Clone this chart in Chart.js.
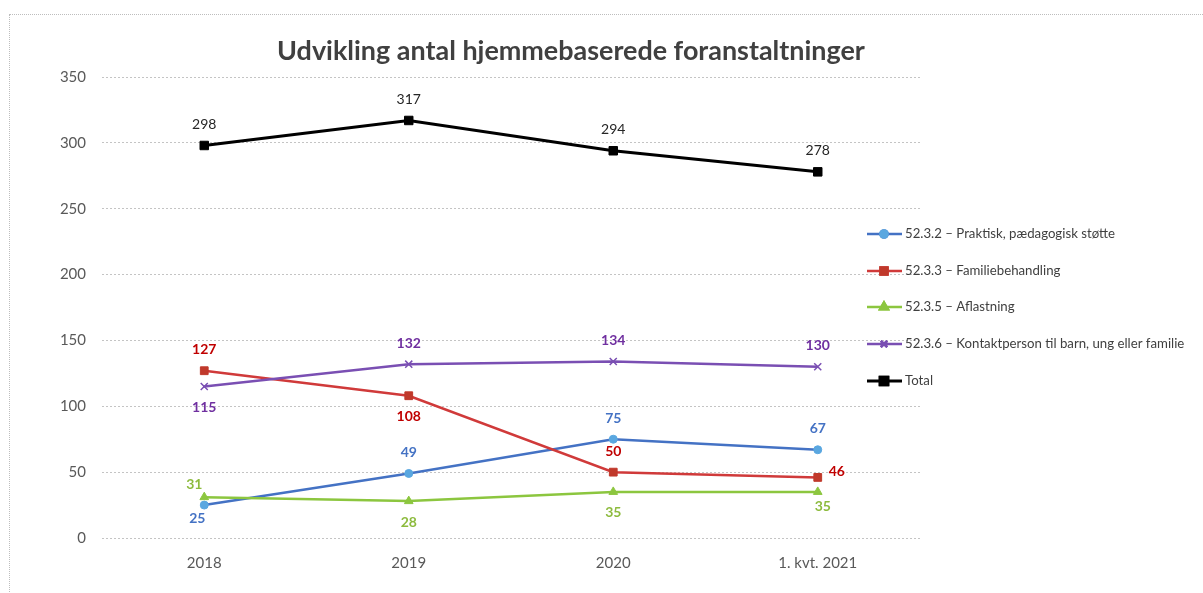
<!DOCTYPE html>
<html>
<head>
<meta charset="utf-8">
<script src="https://cdn.jsdelivr.net/npm/chart.js@4/dist/chart.umd.min.js"></script>
<style>
  html, body { margin: 0; padding: 0; background: #fff; overflow: hidden; }
  #wrap { position: relative; width: 1203px; height: 593px; }
  #frame { position: absolute; left: 9px; top: 14px; width: 1300px; height: 700px; border: 1px dotted #bdbdbd; }
  canvas { position: absolute; left: 0; top: 0; }
</style>
</head>
<body>
<div id="wrap">
  <div id="frame"></div>
  <canvas id="c" width="1203" height="593"></canvas>
</div>
<script>
const categories = ['2018', '2019', '2020', '1. kvt. 2021'];
const seriesNames = [
  '52.3.2 – Praktisk, pædagogisk støtte',
  '52.3.3 – Familiebehandling',
  '52.3.5 – Aflastning',
  '52.3.6 – Kontaktperson til barn, ung eller familie',
  'Total'
];
const praktisk = [25, 49, 75, 67];
const familiebehandling = [127, 108, 50, 46];
const aflastning = [31, 28, 35, 35];
const kontaktperson = [115, 132, 134, 130];
const total = [298, 317, 294, 278];
const yTicks = [0, 50, 100, 150, 200, 250, 300, 350];
const chartTitle = 'Udvikling antal hjemmebaserede foranstaltninger';

const FONT = 'Lato, "Open Sans", sans-serif';

const styles = [
  { line: '#4472c4', fill: '#5aa7e0', label: '#4472c4', point: 'circle', r: 4, lw: 2.5, bold: true,
    pos: ['belowLeft', 'above', 'above', 'above'] },
  { line: '#d03a3a', fill: '#c0392b', label: '#c00000', point: 'rect', r: 5.5, lw: 2.5, bold: true,
    pos: ['above', 'below', 'above', 'right'] },
  { line: '#8cc63f', fill: '#8cc63f', label: '#8dbb3e', point: 'triangle', r: 5, lw: 2.5, bold: true,
    pos: ['aboveLeft', 'below', 'below', 'belowRight'] },
  { line: '#7a4fb3', fill: '#7a4fb3', label: '#7030a0', point: 'crossRot', r: 5, lw: 2.5, bold: true,
    pos: ['below', 'above', 'above', 'above'] },
  { line: '#000000', fill: '#000000', label: '#262626', point: 'rect', r: 6, lw: 3, bold: false,
    pos: ['above', 'above', 'above', 'above'] }
];
const values = [praktisk, familiebehandling, aflastning, kontaktperson, total];

const datasets = values.map((v, i) => ({
  label: seriesNames[i],
  data: v,
  borderColor: styles[i].line,
  backgroundColor: styles[i].fill,
  pointBackgroundColor: styles[i].fill,
  pointBorderColor: styles[i].point === 'crossRot' ? styles[i].line : styles[i].fill,
  pointStyle: styles[i].point,
  pointRadius: styles[i].r,
  pointHoverRadius: styles[i].r,
  pointBorderWidth: styles[i].point === 'crossRot' ? 1.5 : 1,
  borderWidth: styles[i].lw,
  tension: 0,
  fill: false,
  order: i === 4 ? 0 : 5 - i
}));

const labelsPlugin = {
  id: 'valueLabels',
  afterDatasetsDraw(chart) {
    const ctx = chart.ctx;
    ctx.save();
    ctx.textAlign = 'center';
    ctx.textBaseline = 'middle';
    chart.data.datasets.forEach((ds, i) => {
      const meta = chart.getDatasetMeta(i);
      const st = styles[i];
      ctx.font = (st.bold ? 'bold ' : '') + '14px ' + FONT;
      ctx.fillStyle = st.label;
      meta.data.forEach((pt, j) => {
        let x = pt.x, y = pt.y;
        switch (st.pos[j]) {
          case 'above': y -= 21; break;
          case 'below': y += 21; break;
          case 'right': x += 19; y -= 6; break;
          case 'belowRight': x += 5; y += 15; break;
          case 'belowLeft': x -= 7; y += 13; break;
          case 'aboveLeft': x -= 10; y -= 13; break;
        }
        ctx.fillText(String(ds.data[j]), x, y);
      });
    });
    ctx.restore();
  }
};

const titleLegendPlugin = {
  id: 'titleLegend',
  afterDraw(chart) {
    const ctx = chart.ctx;
    ctx.save();
    // title
    ctx.fillStyle = '#404040';
    ctx.textAlign = 'center';
    ctx.textBaseline = 'middle';
    let fs = 24;
    ctx.font = 'bold ' + fs + 'px ' + FONT;
    const w = ctx.measureText(chartTitle).width;
    fs = fs * 588 / w;
    ctx.font = 'bold ' + fs.toFixed(2) + 'px ' + FONT;
    ctx.fillText(chartTitle, 571, 51);
    // legend
    const ys = [234, 271, 307, 344, 381];
    ctx.textAlign = 'left';
    ctx.font = '12px ' + FONT;
    const lw = ctx.measureText(seriesNames[0]).width;
    const lfs = 12 * 210 / lw;
    styles.forEach((st, i) => {
      const y = ys[i];
      ctx.strokeStyle = st.line;
      ctx.lineWidth = st.lw;
      ctx.beginPath();
      ctx.moveTo(867, y);
      ctx.lineTo(902, y);
      ctx.stroke();
      Chart.helpers.drawPoint(ctx, {
        pointStyle: st.point,
        radius: st.r * 0.9,
        borderWidth: st.point === 'crossRot' ? 1.5 : 1,
        rotation: 0
      }, 884, y);
      ctx.fillStyle = st.fill;
      ctx.strokeStyle = st.point === 'crossRot' ? st.line : st.fill;
      ctx.beginPath();
      Chart.helpers.drawPoint(ctx, {
        pointStyle: st.point, radius: st.r * 0.9,
        borderWidth: st.point === 'crossRot' ? 1.5 : 1, rotation: 0
      }, 884, y);
      ctx.fillStyle = '#404040';
      ctx.font = lfs.toFixed(2) + 'px ' + FONT;
      ctx.textBaseline = 'middle';
      ctx.fillText(seriesNames[i], 905, y);
    });
    ctx.restore();
  }
};

new Chart(document.getElementById('c'), {
  type: 'line',
  data: { labels: categories, datasets },
  plugins: [labelsPlugin, titleLegendPlugin],
  options: {
    responsive: false,
    animation: false,
    events: [],
    layout: { padding: { top: 77, right: 283, bottom: 0, left: 0 } },
    plugins: {
      legend: { display: false },
      title: { display: false },
      tooltip: { enabled: false }
    },
    scales: {
      x: {
        offset: true,
        grid: { display: false, drawTicks: false },
        border: { display: false },
        ticks: { color: '#595959', font: { family: FONT, size: 15 }, padding: 16 },
        afterFit(scale) { scale.height = 55; }
      },
      y: {
        min: 0, max: 350,
        afterBuildTicks(scale) { scale.ticks = yTicks.map(v => ({ value: v })); },
        grid: { color: '#c4c4c4', lineWidth: 1, drawTicks: false },
        border: { display: false, dash: [2, 2] },
        ticks: { color: '#595959', font: { family: FONT, size: 15 }, padding: 16 },
        afterFit(scale) { scale.width = 102; }
      }
    }
  }
});
</script>
</body>
</html>
